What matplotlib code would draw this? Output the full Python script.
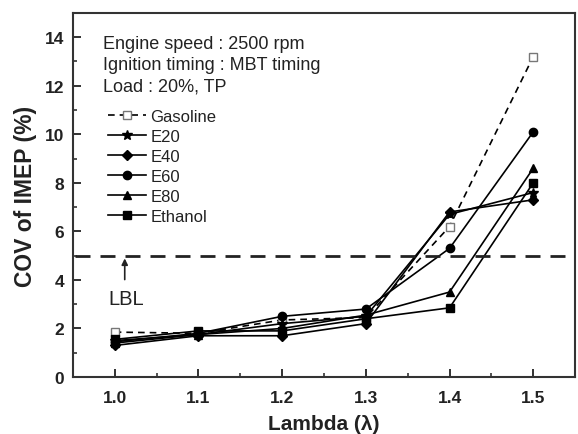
import matplotlib
matplotlib.use("Agg")
import matplotlib.pyplot as plt
from matplotlib.ticker import MultipleLocator

plt.rcParams['font.family'] = ['Liberation Sans', 'DejaVu Sans']

# 数据
lam = [1.0, 1.1, 1.2, 1.3, 1.4, 1.5]
gasoline = [1.85, 1.8, 2.35, 2.45, 6.2, 13.2]
e20 = [1.5, 1.75, 2.2, 2.5, 6.7, 7.6]
e40 = [1.3, 1.7, 1.7, 2.2, 6.8, 7.3]
e60 = [1.45, 1.8, 2.5, 2.8, 5.3, 10.1]
e80 = [1.4, 1.75, 2.0, 2.55, 3.5, 8.6]
ethanol = [1.55, 1.9, 1.9, 2.4, 2.85, 8.0]
lbl = 5

fig = plt.figure(figsize=(5.78, 4.35), dpi=100)
ax = fig.add_axes([0.126, 0.131, 0.869, 0.837])

ax.plot(lam, gasoline, color='black', lw=1.2, ls=(0, (4, 3)), marker='s',
        mfc='white', mec='#777777', ms=6, label='Gasoline')
ax.plot(lam, e20, color='black', lw=1.2, marker='*', ms=7, label='E20')
ax.plot(lam, e40, color='black', lw=1.2, marker='D', ms=5, label='E40')
ax.plot(lam, e60, color='black', lw=1.2, marker='o', ms=6, label='E60')
ax.plot(lam, e80, color='black', lw=1.2, marker='^', ms=6, label='E80')
ax.plot(lam, ethanol, color='black', lw=1.2, marker='s', ms=5.5, label='Ethanol')

# LBL线
ax.axhline(lbl, xmin=0.005, xmax=0.98, color='#222222', lw=2, ls=(0, (5.4, 3.6)))
ax.annotate('', xy=(1.012, lbl), xytext=(1.012, 3.9),
            arrowprops=dict(arrowstyle='-|>', color='#222222', lw=1.2, mutation_scale=9))
ax.text(1.014, 3.25, 'LBL', fontsize=14.5, ha='center', va='center', color='#222222')

# 条件说明
ax.text(0.986, 13.75, 'Engine speed : 2500 rpm', fontsize=13, va='center', color='#222222')
ax.text(0.986, 12.87, 'Ignition timing : MBT timing', fontsize=13, va='center', color='#222222')
ax.text(0.986, 11.98, 'Load : 20%, TP', fontsize=13, va='center', color='#222222')

ax.legend(loc='upper left', bbox_to_anchor=(0.057, 0.755), frameon=False,
          fontsize=12, handlelength=2.3, handletextpad=0.25,
          labelspacing=0.3, borderaxespad=0, labelcolor='#222222')

ax.set_xlim(0.95, 1.55)
ax.set_ylim(0, 15)
ax.xaxis.set_minor_locator(MultipleLocator(0.05))
ax.yaxis.set_major_locator(MultipleLocator(2))
ax.yaxis.set_minor_locator(MultipleLocator(1))
ax.set_xticks(lam)
ax.set_xticklabels(['1.0', '1.1', '1.2', '1.3', '1.4', '1.5'])
ax.tick_params(which='both', direction='in', top=False, right=False,
               labelsize=12.5, colors='#222222')
ax.tick_params(which='major', length=6, width=1.3)
ax.tick_params(axis='x', which='major', pad=9)
ax.tick_params(axis='y', which='major', pad=6)
ax.tick_params(which='minor', length=3, width=1.1)
for lab in ax.get_xticklabels() + ax.get_yticklabels():
    lab.set_fontweight('bold')
for s in ax.spines.values():
    s.set_linewidth(1.5)
    s.set_color('#333333')

ax.set_xlabel('Lambda (λ)', fontsize=15, fontweight='bold', color='#222222', labelpad=7)
ax.set_ylabel('COV of IMEP (%)', fontsize=16.5, fontweight='bold', color='#222222', labelpad=6)

fig.savefig('out.png', dpi=100)
